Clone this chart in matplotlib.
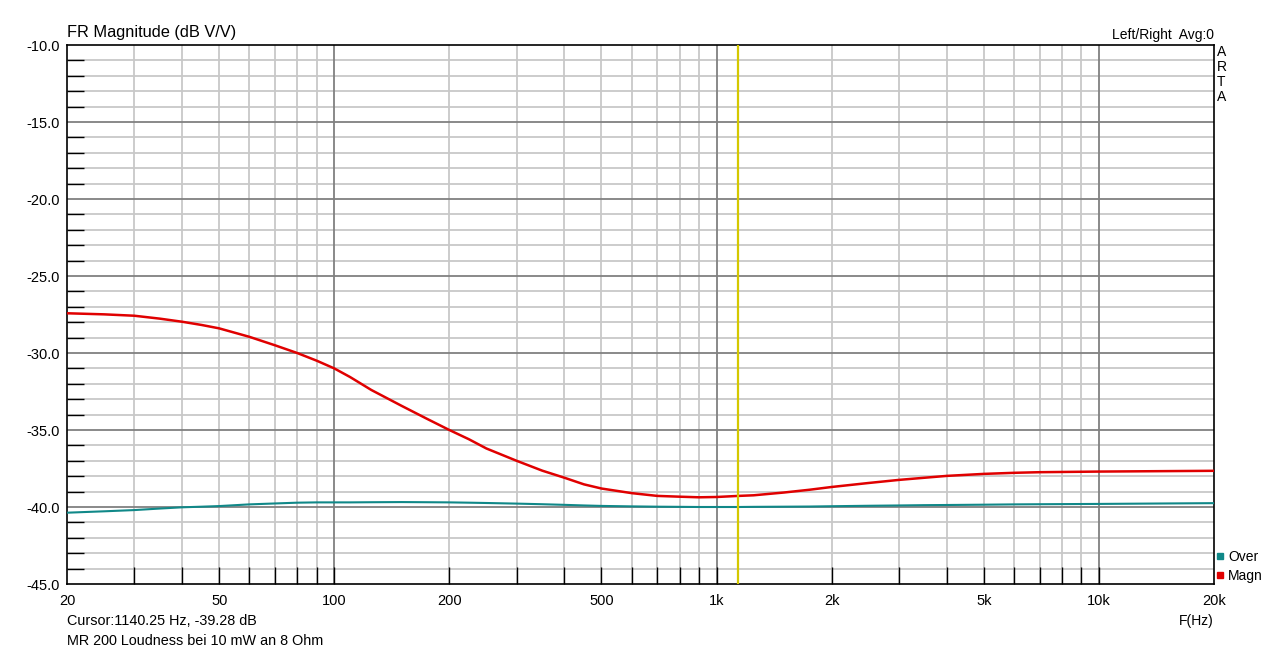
import matplotlib
matplotlib.use("Agg")
import matplotlib.pyplot as plt
from matplotlib.ticker import FixedLocator, NullFormatter
from matplotlib.lines import Line2D

plt.rcParams['font.family'] = ['Liberation Sans', 'DejaVu Sans']

# frequency points (Hz)
freq = [20, 25, 30, 35, 40, 45, 50, 60, 70, 80, 90, 100, 110, 125, 150, 175,
        200, 225, 250, 300, 350, 400, 450, 500, 600, 700, 800, 900, 1000, 1140,
        1250, 1500, 1750, 2000, 2500, 3000, 3500, 4000, 5000, 6000, 7000,
        10000, 15000, 20000]
# "Magn" curve (dB V/V)
magn = [-27.42, -27.49, -27.58, -27.77, -27.97, -28.18, -28.40, -28.95, -29.50,
        -30.00, -30.50, -31.00, -31.56, -32.40, -33.43, -34.28, -35.00, -35.60,
        -36.20, -37.00, -37.64, -38.10, -38.53, -38.80, -39.10, -39.28, -39.33,
        -39.37, -39.35, -39.28, -39.24, -39.06, -38.88, -38.70, -38.44, -38.24,
        -38.10, -37.98, -37.85, -37.78, -37.74, -37.70, -37.67, -37.65]
# "Over" curve (dB V/V)
over = [-40.37, -40.28, -40.20, -40.10, -40.02, -39.98, -39.94, -39.83, -39.77,
        -39.72, -39.70, -39.70, -39.70, -39.69, -39.68, -39.69, -39.70, -39.72,
        -39.74, -39.78, -39.82, -39.86, -39.90, -39.93, -39.96, -39.98, -39.99,
        -40.00, -40.00, -40.00, -39.99, -39.98, -39.97, -39.95, -39.92, -39.90,
        -39.88, -39.87, -39.85, -39.83, -39.82, -39.80, -39.77, -39.75]

cursor_f = 1140.25
xticks = [20, 50, 100, 200, 500, 1000, 2000, 5000, 10000, 20000]
xlabels = ['20', '50', '100', '200', '500', '1k', '2k', '5k', '10k', '20k']
yticks = [-45, -40, -35, -30, -25, -20, -15, -10]

red = '#e00000'
teal = '#108888'

fig = plt.figure(figsize=(12.8, 6.53), dpi=100)
ax = fig.add_axes([67 / 1280, 1 - 584 / 653, (1214 - 67) / 1280, (584 - 45) / 653])
ax.set_xscale('log')
ax.set_xlim(20, 20000)
ax.set_ylim(-45, -10)

# grid: minor light, decades / 5 dB darker
minor_x = [m * 10 ** e for e in range(1, 5) for m in range(2, 10)]
minor_x = [v for v in minor_x if 20 < v < 20000]
decades = [100, 1000, 10000]
for v in minor_x:
    ax.axvline(v, color='#c8c8c8', lw=1.3, zorder=0)
for v in decades:
    ax.axvline(v, color='#808080', lw=1.3, zorder=0.5)
for v in range(-44, -10):
    if v % 5:
        ax.axhline(v, color='#c8c8c8', lw=1.3, zorder=0)
for v in yticks[1:-1]:
    ax.axhline(v, color='#808080', lw=1.3, zorder=0.5)

ax.plot(freq, over, color=teal, lw=1.5, zorder=3, solid_joinstyle='round')
ax.plot(freq, magn, color=red, lw=1.8, zorder=4, solid_joinstyle='round')
ax.axvline(cursor_f, color='#d4c800', lw=1.6, zorder=5)

# ticks
ax.xaxis.remove_overlapping_locs = False
ax.xaxis.set_major_locator(FixedLocator(xticks))
ax.set_xticklabels(xlabels)
ax.xaxis.set_minor_locator(FixedLocator(minor_x + decades))
ax.xaxis.set_minor_formatter(NullFormatter())
ax.tick_params(axis='x', which='major', length=0, pad=7, labelsize=10.5)
ax.tick_params(axis='x', which='minor', direction='in', length=12, width=1, color='black')
ax.set_yticks(yticks)
ax.set_yticklabels(['%.1f' % v for v in yticks])
ax.yaxis.set_minor_locator(FixedLocator([v for v in range(-44, -10) if v % 5]))
ax.tick_params(axis='y', which='major', length=0, pad=5, labelsize=10.5)
ax.tick_params(axis='y', which='minor', direction='in', length=12, width=1, color='black')
for s in ax.spines.values():
    s.set_color('black')
    s.set_linewidth(1.2)

# texts
fig.text(67 / 1280, 1 - 32 / 653, 'FR Magnitude (dB V/V)', fontsize=11.8, va='center', ha='left')
fig.text(1214 / 1280, 1 - 35 / 653, 'Left/Right  Avg:0', fontsize=10, va='center', ha='right')
fig.text(1217 / 1280, 1 - 45 / 653, 'A\nR\nT\nA', fontsize=10, va='top', ha='left', linespacing=1.1)
fig.text(1214 / 1280, 1 - 621 / 653, 'F(Hz)', fontsize=10, va='center', ha='right')
fig.text(67 / 1280, 1 - 621 / 653, 'Cursor:1140.25 Hz, -39.28 dB', fontsize=10.4, va='center', ha='left')
fig.text(67 / 1280, 1 - 641 / 653, 'MR 200 Loudness bei 10 mW an 8 Ohm', fontsize=10.4, va='center', ha='left')

handles = [Line2D([], [], ls='none', marker='s', ms=4, color=teal),
           Line2D([], [], ls='none', marker='s', ms=4, color=red)]
ax.legend(handles, ['Over', 'Magn'], loc='lower left', bbox_to_anchor=(1.0, 0.0),
          frameon=False, fontsize=10, handlelength=0.6, handletextpad=0.3,
          borderaxespad=0, borderpad=0.1, labelspacing=0.35)

fig.savefig('out.png', dpi=100)
